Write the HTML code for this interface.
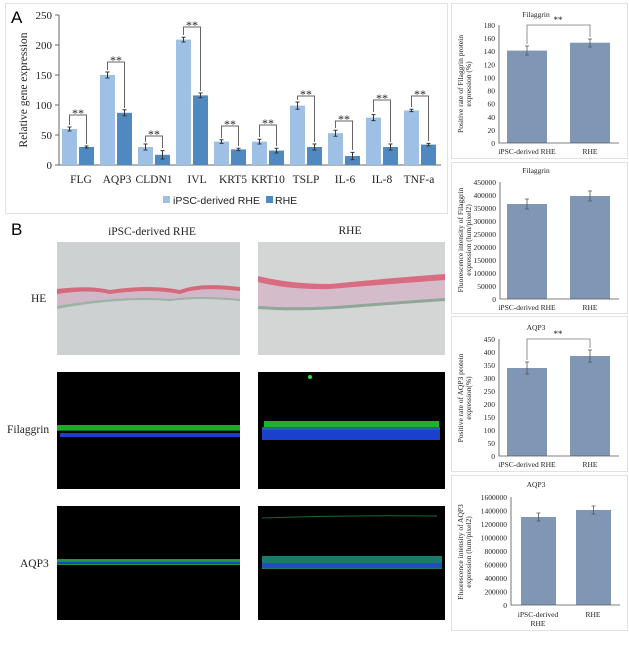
<!DOCTYPE html>
<html><head><meta charset="utf-8"><style>
html,body{margin:0;padding:0;background:#fff;}
svg{display:block;font-family:"Liberation Serif",serif;}
</style></head><body>
<svg width="629" height="658" viewBox="0 0 629 658" xmlns="http://www.w3.org/2000/svg">
<rect width="629" height="658" fill="#fff"/>
<!-- Panel A box -->
<rect x="5.5" y="3.5" width="442" height="210" fill="none" stroke="#e2e2e2"/>
<text x="11" y="23" font-family="Liberation Sans,sans-serif" font-size="17">A</text>
<g font-size="11" fill="#222" text-anchor="end">
<text x="52" y="169">0</text><text x="52" y="139">50</text><text x="52" y="109">100</text>
<text x="52" y="79">150</text><text x="52" y="49">200</text><text x="52" y="19">250</text>
</g>
<text transform="translate(27,90) rotate(-90)" font-size="11.5" text-anchor="middle" fill="#222">Relative gene expression</text>
<g stroke="#666" stroke-width="1">
<line x1="59" y1="15" x2="59" y2="165"/><line x1="59" y1="165" x2="441" y2="165"/>
<line x1="55" y1="15" x2="59" y2="15"/><line x1="55" y1="45" x2="59" y2="45"/><line x1="55" y1="75" x2="59" y2="75"/><line x1="55" y1="105" x2="59" y2="105"/><line x1="55" y1="135" x2="59" y2="135"/><line x1="55" y1="165" x2="59" y2="165"/>
</g>
<g fill="#9dc0e4">
<rect x="62" y="129" width="15" height="36"/><rect x="100" y="75" width="15" height="90"/><rect x="138" y="147" width="15" height="18"/><rect x="176" y="39.6" width="15" height="125.4"/><rect x="214" y="141.6" width="15" height="23.4"/><rect x="252" y="141.6" width="15" height="23.4"/><rect x="290" y="105.6" width="15" height="59.4"/><rect x="328" y="133.2" width="15" height="31.8"/><rect x="366" y="117.6" width="15" height="47.4"/><rect x="404" y="110.4" width="15" height="54.6"/>
</g>
<g fill="#5089c0">
<rect x="79" y="147" width="15" height="18"/><rect x="117" y="112.8" width="15" height="52.2"/><rect x="155" y="154.8" width="15" height="10.2"/><rect x="193" y="95.4" width="15" height="69.6"/><rect x="231" y="149.4" width="15" height="15.6"/><rect x="269" y="150.6" width="15" height="14.4"/><rect x="307" y="147" width="15" height="18"/><rect x="345" y="156" width="15" height="9"/><rect x="383" y="147" width="15" height="18"/><rect x="421" y="144.6" width="15" height="20.4"/>
</g>
<g stroke="#333" stroke-width="1" fill="none">
<path d="M69.5 127v4M67.5 127h4M67.5 131h4 M86.5 146v2M84.5 146h4M84.5 148h4"/>
<path d="M107.5 72v6M105.5 72h4M105.5 78h4 M124.5 109.8v6M122.5 109.8h4M122.5 115.8h4"/>
<path d="M145.5 144v6M143.5 144h4M143.5 150h4 M162.5 150.6v8.4M160.5 150.6h4M160.5 159h4"/>
<path d="M183.5 37.2v4.8M181.5 37.2h4M181.5 42h4 M200.5 93v4.8M198.5 93h4M198.5 97.8h4"/>
<path d="M221.5 139.8v3.6M219.5 139.8h4M219.5 143.4h4 M238.5 148.2v2.4M236.5 148.2h4M236.5 150.6h4"/>
<path d="M259.5 139.2v4.8M257.5 139.2h4M257.5 144h4 M276.5 148.2v4.8M274.5 148.2h4M274.5 153h4"/>
<path d="M297.5 102v7.2M295.5 102h4M295.5 109.2h4 M314.5 144v6M312.5 144h4M312.5 150h4"/>
<path d="M335.5 130.2v6M333.5 130.2h4M333.5 136.2h4 M352.5 152.4v7.2M350.5 152.4h4M350.5 159.6h4"/>
<path d="M373.5 114.6v6M371.5 114.6h4M371.5 120.6h4 M390.5 144v6M388.5 144h4M388.5 150h4"/>
<path d="M411.5 109.2v2.4M409.5 109.2h4M409.5 111.6h4 M428.5 143.4v2.4M426.5 143.4h4M426.5 145.8h4"/>
</g>
<g stroke="#666" stroke-width="1" fill="none">
<path d="M69.5 125V115H86.5V144"/>
<path d="M107.5 70V62H124.5V108"/>
<path d="M145.5 142V136H162.5V148"/>
<path d="M183.5 35V27H200.5V91"/>
<path d="M221.5 138V126H238.5V146"/>
<path d="M259.5 137V125H276.5V146"/>
<path d="M297.5 100V96H314.5V142"/>
<path d="M335.5 128V121H352.5V150"/>
<path d="M373.5 112V100H390.5V142"/>
<path d="M411.5 107V96H428.5V141"/>
</g>
<g font-size="12" text-anchor="middle" fill="#222">
<text x="78" y="117">**</text><text x="116" y="64">**</text><text x="154" y="138">**</text><text x="192" y="29">**</text><text x="230" y="128">**</text><text x="268" y="127">**</text><text x="306" y="98">**</text><text x="344" y="123">**</text><text x="382" y="102">**</text><text x="420" y="98">**</text>
</g>
<g font-size="11.5" text-anchor="middle" fill="#222">
<text x="81" y="183">FLG</text><text x="117" y="183">AQP3</text><text x="154" y="183">CLDN1</text><text x="197" y="183">IVL</text><text x="233" y="183">KRT5</text><text x="268" y="183">KRT10</text><text x="306" y="183">TSLP</text><text x="345" y="183">IL-6</text><text x="382" y="183">IL-8</text><text x="419" y="183">TNF-a</text>
</g>
<rect x="163" y="196" width="7" height="7" fill="#9dc0e4"/>
<text x="173" y="204" font-family="Liberation Sans,sans-serif" font-size="10.5" fill="#222">iPSC-derived RHE</text>
<rect x="266" y="196" width="7" height="7" fill="#5089c0"/>
<text x="275" y="204" font-family="Liberation Sans,sans-serif" font-size="10.5" fill="#222">RHE</text>

<!-- Panel B -->
<text x="11" y="235" font-family="Liberation Sans,sans-serif" font-size="17">B</text>
<g font-size="11.5" fill="#222" text-anchor="middle">
<text x="152" y="235">iPSC-derived RHE</text><text x="350" y="234">RHE</text>
</g>
<g font-size="11.5" fill="#222">
<text x="31" y="302">HE</text><text x="7" y="433">Filaggrin</text><text x="20" y="567">AQP3</text>
</g>
<!-- HE images -->
<rect x="57" y="242" width="183" height="113" fill="#cdd1d1"/>
<path d="M57 291 Q90 286 110 292 Q150 286 180 292 Q200 284 240 289 L240 300 Q200 296 170 300 Q120 296 57 308 Z" fill="#d0b8c8"/>
<path d="M57 289 Q90 285 110 290 Q150 284 180 290 Q200 282 240 287 L240 291 Q200 286 180 294 Q150 288 110 294 Q90 289 57 294 Z" fill="#d46a7c"/>
<path d="M57 306 Q120 295 170 299 Q200 295 240 299 L240 301 Q200 297 170 301 Q120 297 57 309 Z" fill="#9cb3a8"/>
<rect x="258" y="242" width="187" height="113" fill="#d3d6d4"/>
<path d="M258 277 Q290 285 330 285 Q390 280 445 276 L445 300 Q400 302 350 306 Q300 310 258 308 Z" fill="#d4bccb"/>
<path d="M258 276 Q290 284 330 284 Q390 278 445 274 L445 280 Q390 284 330 289 Q290 290 258 282 Z" fill="#d86c80"/>
<path d="M258 306 Q300 309 350 305 Q400 301 445 298 L445 301 Q400 304 350 308 Q300 312 258 309 Z" fill="#8ea898"/>
<!-- Filaggrin fluorescence -->
<rect x="57" y="372" width="183" height="117" fill="#000"/>
<rect x="57" y="425" width="183" height="5" fill="#1fa82a"/>
<rect x="57" y="430" width="183" height="1" fill="#0c6a30"/>
<rect x="60" y="433" width="180" height="4" fill="#1a3fc8"/>
<rect x="258" y="372" width="187" height="117" fill="#000"/>
<rect x="264" y="421" width="175" height="6" fill="#22b02c"/>
<rect x="262" y="427" width="178" height="3" fill="#1b6a8a"/>
<rect x="262" y="430" width="178" height="10" fill="#1a40cc"/>
<circle cx="310" cy="377" r="2" fill="#2be03a"/>
<!-- AQP3 fluorescence -->
<rect x="57" y="506" width="183" height="114" fill="#000"/>
<rect x="57" y="559" width="183" height="6" fill="#1d9a3a"/>
<rect x="57" y="562" width="183" height="2" fill="#1a44b8"/>
<rect x="258" y="506" width="187" height="114" fill="#000"/>
<path d="M262 518 Q350 515 437 516" stroke="#1b6a2a" stroke-width="1" fill="none"/>
<rect x="262" y="556" width="180" height="13" fill="#1c7a68"/>
<rect x="262" y="563" width="180" height="5" fill="#1f4fc0"/>

<!-- Right boxes -->
<g fill="none" stroke="#e2e2e2">
<rect x="451.5" y="3.5" width="176" height="155"/>
<rect x="451.5" y="162.5" width="176" height="151"/>
<rect x="451.5" y="316.5" width="176" height="155"/>
<rect x="451.5" y="475.5" width="176" height="155"/>
</g>
<g font-size="7.5" fill="#222">
<!-- Box1 -->
<text x="536" y="17" text-anchor="middle">Filaggrin</text>
<g text-anchor="end"><text x="495" y="146">0</text><text x="495" y="132.9">20</text><text x="495" y="119.8">40</text><text x="495" y="106.7">60</text><text x="495" y="93.6">80</text><text x="495" y="80.4">100</text><text x="495" y="67.3">120</text><text x="495" y="54.2">140</text><text x="495" y="41.1">160</text><text x="495" y="28">180</text></g>
<text transform="translate(463,84) rotate(-90)" text-anchor="middle">Positive rate of Filaggrin protein</text>
<text transform="translate(471,84) rotate(-90)" text-anchor="middle">expression (%)</text>
<text x="527" y="154" text-anchor="middle">iPSC-derived RHE</text><text x="590" y="154" text-anchor="middle">RHE</text>
<!-- Box2 -->
<text x="536" y="173" text-anchor="middle">Filaggrin</text>
<g text-anchor="end"><text x="496" y="302">0</text><text x="496" y="289">50000</text><text x="496" y="276">100000</text><text x="496" y="263">150000</text><text x="496" y="250">200000</text><text x="496" y="237">250000</text><text x="496" y="224">300000</text><text x="496" y="211">350000</text><text x="496" y="198">400000</text><text x="496" y="185">450000</text></g>
<text transform="translate(463,240) rotate(-90)" text-anchor="middle">Fluorescence intensity of Filaggrin</text>
<text transform="translate(471,240) rotate(-90)" text-anchor="middle">expression (lum/pixel2)</text>
<text x="527" y="310" text-anchor="middle">iPSC-derived RHE</text><text x="590" y="310" text-anchor="middle">RHE</text>
<!-- Box3 -->
<text x="536" y="330" text-anchor="middle">AQP3</text>
<g text-anchor="end"><text x="495" y="459">0</text><text x="495" y="446">50</text><text x="495" y="433">100</text><text x="495" y="420">150</text><text x="495" y="407">200</text><text x="495" y="394">250</text><text x="495" y="381">300</text><text x="495" y="368">350</text><text x="495" y="355">400</text><text x="495" y="342">450</text></g>
<text transform="translate(463,398) rotate(-90)" text-anchor="middle">Positive rate of AQP3 protein</text>
<text transform="translate(471,398) rotate(-90)" text-anchor="middle">expression(%)</text>
<text x="527" y="467" text-anchor="middle">iPSC-derived RHE</text><text x="590" y="467" text-anchor="middle">RHE</text>
<!-- Box4 -->
<text x="536" y="487" text-anchor="middle">AQP3</text>
<g text-anchor="end"><text x="507" y="608">0</text><text x="507" y="594.5">200000</text><text x="507" y="581">400000</text><text x="507" y="567.5">600000</text><text x="507" y="554">800000</text><text x="507" y="540.5">1000000</text><text x="507" y="527">1200000</text><text x="507" y="513.5">1400000</text><text x="507" y="500">1600000</text></g>
<text transform="translate(463,552) rotate(-90)" text-anchor="middle">Fluorescence intensity of AQP3</text>
<text transform="translate(471,552) rotate(-90)" text-anchor="middle">expression (lum/pixel2)</text>
<text x="538" y="617" text-anchor="middle">iPSC-derived</text><text x="538" y="626" text-anchor="middle">RHE</text><text x="593" y="617" text-anchor="middle">RHE</text>
</g>
<g fill="#7f96b5">
<rect x="507" y="50.6" width="40" height="92.4"/><rect x="570" y="42.7" width="40" height="100.3"/>
<rect x="507" y="204" width="40" height="95"/><rect x="570" y="196" width="40" height="103"/>
<rect x="507" y="368" width="40" height="88"/><rect x="570" y="356" width="40" height="100"/>
<rect x="521" y="517" width="35" height="88"/><rect x="576" y="510" width="35" height="95"/>
</g>
<g stroke="#555" stroke-width="0.8" fill="none">
<path d="M499 25V143H619 M500 182V299H619 M499 339V456H619 M511 497V605H620"/>
<path d="M527 46v9M525 46h4M525 55h4 M590 39v8M588 39h4M588 47h4"/>
<path d="M527 199v10M525 199h4M525 209h4 M590 191v10M588 191h4M588 201h4"/>
<path d="M527 362v12M525 362h4M525 374h4 M590 350v12M588 350h4M588 362h4"/>
<path d="M538.5 513v8M536.5 513h4M536.5 521h4 M593.5 506v8M591.5 506h4M591.5 514h4"/>
<path d="M527 44V25H590V37 M527 360V339H590V348" stroke="#777"/>
</g>
<g font-size="9" text-anchor="middle" fill="#222"><text x="558" y="23">**</text><text x="558" y="337">**</text></g>
</svg>
</body></html>
